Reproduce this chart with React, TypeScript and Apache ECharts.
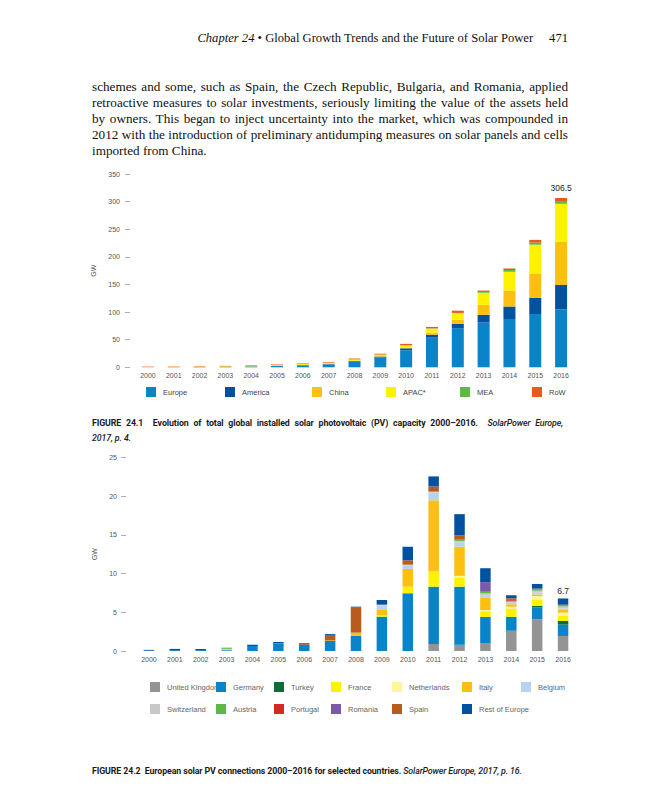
import React, { useEffect, useRef } from "react";
import * as echarts from "echarts";

const years = ["2000","2001","2002","2003","2004","2005","2006","2007","2008","2009","2010","2011","2012","2013","2014","2015","2016"];

// Figure 24.1 cumulative capacity (GW)
const regionNames = ["Europe", "America", "China", "APAC*", "MEA", "RoW"];
const europe = [0.15,0.25,0.4,0.6,1.4,2.3,3.3,5.0,10.5,18,30.8,53.6,71,81,87.5,96.5,105];
const america = [0.15,0.2,0.2,0.3,0.4,0.5,0.6,0.8,1.2,1.5,3.6,5.4,7.5,14,22.5,29.5,44];
const china = [0,0,0,0,0,0,0.1,0.1,0.1,0.5,1,3.7,7.5,18,29,44,78.5];
const apac = [0.3,0.4,0.6,0.9,1.3,1.5,1.9,2.3,2.5,3,4.3,7.3,12,22,34,52,68.5];
const mea = [0,0,0,0,0,0,0,0,0.1,0.1,0.2,0.5,0.5,1.5,3,3.7,5];
const rowW = [0.65,0.65,0.8,0.8,0.9,0.9,1,1.2,1.5,1.5,2.5,2.5,4,2.5,3,5,5.5];
const regionValues = [europe, america, china, apac, mea, rowW];
const regionColors = ["#0a84c8", "#0052a0", "#fcbf12", "#fff200", "#5cb946", "#e85a20"];
const total1Label = "306.5";
const yTicks1 = { min: 0, max: 350, interval: 50 };

// Figure 24.2 annual connections (GW)
const countryNames = ["United Kingdom","Germany","Turkey","France","Netherlands","Italy","Belgium","Switzerland","Austria","Portugal","Romania","Spain","Rest of Europe"];
const uk =          [0,0,0,0,0,0,0,0,0,0,0,0.9,0.8,1.03,2.6,4.09,1.94];
const germany =     [0.05,0.12,0.12,0.1,0.65,0.93,0.78,1.29,1.98,4.43,7.45,7.4,7.5,3.36,1.83,1.54,1.46];
const turkey =      [0,0,0,0,0,0,0,0,0,0,0,0,0,0,0,0.2,0.47];
const france =      [0,0,0,0,0,0,0,0,0,0.17,0.85,1.9,1.2,0.75,0.99,0.83,0.69];
const netherlands = [0,0,0,0,0,0,0,0,0,0,0,0.05,0.2,0.15,0.3,0.43,0.39];
const italy =       [0,0,0,0,0,0,0,0.07,0.39,0.78,2.3,9.2,3.76,1.6,0.3,0.21,0.35];
const belgium =     [0,0,0,0.18,0,0,0,0,0,0.5,0.4,1.0,0.55,0.3,0.2,0.25,0.2];
const switzerland = [0,0,0,0,0,0,0,0,0,0.1,0.1,0.08,0.2,0.25,0.15,0.23,0.25];
const austria =     [0,0,0,0.15,0,0,0,0,0,0,0.05,0.05,0.15,0.2,0.1,0.12,0.18];
const portugal =    [0,0,0,0,0,0,0,0,0,0,0,0.05,0,0,0.2,0.05,0];
const romania =     [0,0,0,0,0,0,0,0,0,0,0,0,0,1.24,0.05,0.05,0];
const spain =       [0,0,0,0,0,0.05,0.1,0.62,3.23,0,0.55,0.6,0.55,0,0.08,0.05,0.05];
const restEurope =  [0.1,0.15,0.14,0,0.17,0.18,0.12,0.2,0.12,0.6,1.75,1.3,2.75,1.8,0.4,0.6,0.8];
const countryValues = [uk, germany, turkey, france, netherlands, italy, belgium, switzerland, austria, portugal, romania, spain, restEurope];
const countryColors = ["#949494","#0a84c8","#0a6e3a","#fff200","#fff59d","#fcbf12","#b8d3ee","#c8c8c8","#5cb946","#d42a20","#7b5aa6","#b85c1e","#0052a0"];
const total2Label = "6.7";
const yTicks2 = { min: 0, max: 25, interval: 5 };

const paragraphLines = [
  "schemes and some, such as Spain, the Czech Republic, Bulgaria, and Romania, applied",
  "retroactive measures to solar investments, seriously limiting the value of the assets held",
  "by owners. This began to inject uncertainty into the market, which was compounded in",
  "2012 with the introduction of preliminary antidumping measures on solar panels and cells",
  "imported from China.",
];

const axisFont = "'Liberation Sans', Arial, sans-serif";

function buildOption() {
  const last = years.length - 1;
  const s1 = regionNames.map((name, k) => ({
    name,
    type: "bar",
    stack: "global",
    xAxisIndex: 0,
    yAxisIndex: 0,
    barWidth: 12,
    itemStyle: { color: regionColors[k] },
    data: regionValues[k].map((v, i) =>
      k === regionNames.length - 1 && i === last
        ? { value: v, label: { show: true, position: "top", distance: 6, formatter: total1Label, color: "#222", fontSize: 8.5, fontFamily: axisFont } }
        : v
    ),
  }));
  const s2 = countryNames.map((name, k) => ({
    name,
    type: "bar",
    stack: "europe",
    xAxisIndex: 1,
    yAxisIndex: 1,
    barWidth: 10.5,
    itemStyle: { color: countryColors[k] },
    data: countryValues[k].map((v, i) =>
      k === countryNames.length - 1 && i === last
        ? { value: v, label: { show: true, position: "top", distance: 3, formatter: total2Label, color: "#222", fontSize: 8.5, fontFamily: axisFont } }
        : v
    ),
  }));

  const legendText = { fontSize: 7.5, color: "#555", fontFamily: axisFont };
  const legend1Left = [146, 225, 312, 386, 460, 532];
  const legends1 = regionNames.map((n, k) => ({
    data: [n],
    left: legend1Left[k],
    top: 387,
    itemWidth: 10,
    itemHeight: 10,
    icon: "rect",
    padding: 0,
    textStyle: { ...legendText, color: "#444", padding: [0, 0, 0, 2] },
    selectedMode: false,
  }));
  const legend2Left = [150, 216, 274, 331, 392, 462, 521];
  const legends2 = legend2Left.map((x, c) => ({
    data: [countryNames[c], countryNames[c + 7]].filter(Boolean),
    left: x,
    top: 682,
    orient: "vertical",
    itemGap: 12,
    itemWidth: 10,
    itemHeight: 10,
    icon: "rect",
    padding: 0,
    textStyle: { ...legendText, color: "#666", padding: [0, 0, 0, 2] },
    selectedMode: false,
  }));

  const xAxisCommon = {
    type: "category",
    data: years,
    axisLine: { show: false },
    axisTick: { show: false },
    axisLabel: { fontSize: 7, color: "#555", fontFamily: axisFont, margin: 5 },
  };
  const yAxisCommon = {
    type: "value",
    splitLine: { show: false },
    axisLine: { show: false },
    axisTick: { show: true, length: 5, lineStyle: { color: "#999", width: 0.8 } },
    name: "GW",
    nameLocation: "middle",
    nameRotate: 90,
    nameTextStyle: { fontSize: 7, color: "#555", fontFamily: axisFont },
  };

  return {
    animation: false,
    backgroundColor: "#ffffff",
    grid: [
      { left: 135, top: 174, width: 439, height: 193.3 },
      { left: 136, top: 457.25, width: 440, height: 193.75 },
    ],
    xAxis: [
      { ...xAxisCommon, gridIndex: 0 },
      { ...xAxisCommon, gridIndex: 1 },
    ],
    yAxis: [
      { ...yAxisCommon, gridIndex: 0, ...yTicks1, offset: 5, nameGap: 26, axisLabel: { fontSize: 7, color: "#555", fontFamily: axisFont, margin: 10 } },
      { ...yAxisCommon, gridIndex: 1, ...yTicks2, offset: 10, nameGap: 22, axisLabel: { fontSize: 7, color: "#555", fontFamily: axisFont, margin: 9 } },
    ],
    legend: [...legends1, ...legends2],
    series: [...s1, ...s2],
  };
}

const serif = "'Liberation Serif', 'DejaVu Serif', serif";
const capFont = "Roboto, 'Liberation Sans', sans-serif";

export default function App() {
  const ref = useRef<HTMLDivElement>(null);
  useEffect(() => {
    const chart = echarts.init(ref.current!, null, { renderer: "svg" });
    chart.setOption(buildOption() as any);
    return () => chart.dispose();
  }, []);

  const capStyle: React.CSSProperties = {
    position: "absolute",
    left: 92,
    fontFamily: capFont,
    fontSize: 8.8,
    fontWeight: 700,
    color: "#1a1a1a",
    whiteSpace: "nowrap",
    lineHeight: "12px",
    letterSpacing: "-0.1px",
  };
  const italicPart: React.CSSProperties = { fontStyle: "italic", fontWeight: 500 };

  return (
    <div style={{ position: "fixed", left: 0, top: 0, width: 647, height: 800, background: "#fff", overflow: "hidden" }}>
      <div ref={ref} style={{ position: "absolute", left: 0, top: 0, width: 647, height: 800 }} />
      <div
        style={{
          position: "absolute",
          right: 79,
          top: 30,
          fontFamily: serif,
          fontSize: 12.6,
          lineHeight: "16px",
          color: "#111",
          whiteSpace: "nowrap",
        }}
      >
        <span style={{ fontStyle: "italic" }}>Chapter 24</span> • Global Growth Trends and the Future of Solar Power
        <span style={{ marginLeft: 16 }}>471</span>
      </div>
      {paragraphLines.map((line, i) => (
        <div
          key={i}
          style={{
            position: "absolute",
            left: 92,
            top: 79 + i * 16,
            width: 476,
            fontFamily: serif,
            fontSize: 13.2,
            lineHeight: "16px",
            color: "#111",
            whiteSpace: "nowrap",
            textAlign: i === paragraphLines.length - 1 ? "left" : "justify",
            textAlignLast: i === paragraphLines.length - 1 ? "left" : "justify",
          }}
        >
          {line}
        </div>
      ))}
      <div style={{ ...capStyle, top: 417, width: 471, textAlign: "justify", textAlignLast: "justify" }}>
        FIGURE 24.1&nbsp; Evolution of total global installed solar photovoltaic (PV) capacity 2000–2016.&nbsp;{" "}
        <span style={italicPart}>SolarPower Europe,</span>
      </div>
      <div style={{ ...capStyle, top: 432 }}>
        <span style={italicPart}>2017, p. 4.</span>
      </div>
      <div style={{ ...capStyle, top: 765 }}>
        FIGURE 24.2&nbsp; European solar PV connections 2000–2016 for selected countries.{" "}
        <span style={italicPart}>SolarPower Europe, 2017, p. 16.</span>
      </div>
    </div>
  );
}
